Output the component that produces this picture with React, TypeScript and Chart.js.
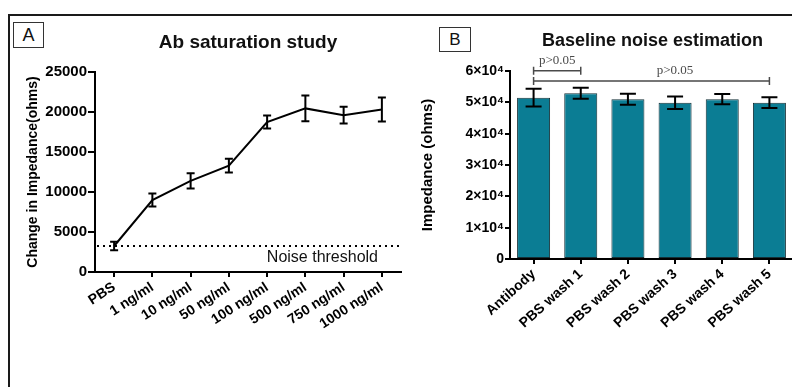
import React, { useEffect, useRef } from 'react';
import { Chart, registerables } from 'chart.js';

Chart.register(...registerables);

// ---------- Panel A data ----------
const A_LABELS = ['PBS', '1 ng/ml', '10 ng/ml', '50 ng/ml', '100 ng/ml', '500 ng/ml', '750 ng/ml', '1000 ng/ml'];
const A_MEANS = [3250, 9000, 11400, 13300, 18750, 20450, 19600, 20300];
const A_ERRORS = [520, 800, 950, 850, 800, 1600, 1050, 1500];
const A_NOISE_THRESHOLD = 3250;
const A_NOISE_LABEL = 'Noise threshold';
const A_Y_MAX = 25000;
const A_Y_STEP = 5000;
const A_TITLE = 'Ab saturation study';
const A_Y_TITLE = 'Change in Impedance(ohms)';

// ---------- Panel B data ----------
const B_LABELS = ['Antibody', 'PBS wash 1', 'PBS wash 2', 'PBS wash 3', 'PBS wash 4', 'PBS wash 5'];
const B_MEANS = [51500, 52900, 51000, 49900, 51000, 49900];
const B_ERRORS = [2800, 1750, 1750, 2000, 1650, 1700];
const B_Y_MAX = 60000;
const B_Y_STEP = 10000;
const B_TITLE = 'Baseline noise estimation';
const B_Y_TITLE = 'Impedance (ohms)';
const B_BRACKET_FROM = [0, 0];
const B_BRACKET_TO = [1, 5];
const B_BRACKET_VALUE = [60100, 56800];
const B_BRACKET_LABEL = ['p>0.05', 'p>0.05'];
const B_BRACKET_LABEL_AT = [0.5, 3];

const SANS = '"Liberation Sans", Arial, Helvetica, sans-serif';
const SERIF = '"Liberation Serif", "Times New Roman", serif';
const TEAL = '#0b7d94';

const errorBarPlugin = {
  id: 'errorBars',
  afterDatasetsDraw(chart: any, _args: any, opts: any) {
    const meta = chart.getDatasetMeta(0);
    const yScale = chart.scales.y;
    const data = chart.data.datasets[0].data as number[];
    const ctx = chart.ctx;
    ctx.save();
    ctx.strokeStyle = opts.color || '#000';
    ctx.lineWidth = opts.lineWidth || 2;
    meta.data.forEach((el: any, i: number) => {
      const x = el.x;
      const v = data[i];
      const e = opts.errors[i];
      const yt = yScale.getPixelForValue(v + e);
      const yb = yScale.getPixelForValue(v - e);
      const c = opts.capHalf;
      ctx.beginPath();
      ctx.moveTo(x, yt);
      ctx.lineTo(x, yb);
      ctx.moveTo(x - c, yt);
      ctx.lineTo(x + c, yt);
      ctx.moveTo(x - c, yb);
      ctx.lineTo(x + c, yb);
      ctx.stroke();
    });
    ctx.restore();
  },
};

const thresholdPlugin = {
  id: 'threshold',
  afterDatasetsDraw(chart: any, _args: any, opts: any) {
    if (!opts || opts.value == null) return;
    const { ctx, chartArea } = chart;
    const y = chart.scales.y.getPixelForValue(opts.value);
    ctx.save();
    ctx.strokeStyle = '#000';
    ctx.lineWidth = 2;
    ctx.setLineDash([2, 4]);
    ctx.beginPath();
    ctx.moveTo(chartArea.left + 2, y);
    ctx.lineTo(chartArea.right, y);
    ctx.stroke();
    ctx.setLineDash([]);
    ctx.fillStyle = '#111';
    ctx.font = `16px ${SANS}`;
    ctx.textAlign = 'right';
    ctx.textBaseline = 'alphabetic';
    ctx.fillText(opts.label, chartArea.right - 23, y + 16);
    ctx.restore();
  },
};

const bracketPlugin = {
  id: 'brackets',
  afterDraw(chart: any, _args: any, opts: any) {
    if (!opts || !opts.from) return;
    const { ctx } = chart;
    const xs = chart.scales.x;
    const ys = chart.scales.y;
    ctx.save();
    ctx.strokeStyle = '#4a4a4a';
    ctx.fillStyle = '#4a4a4a';
    ctx.lineWidth = 1.5;
    ctx.font = `13px ${SERIF}`;
    ctx.textAlign = 'center';
    ctx.textBaseline = 'alphabetic';
    for (let i = 0; i < opts.from.length; i++) {
      const x1 = xs.getPixelForValue(opts.from[i]);
      const x2 = xs.getPixelForValue(opts.to[i]);
      const y = ys.getPixelForValue(opts.values[i]);
      ctx.beginPath();
      ctx.moveTo(x1, y);
      ctx.lineTo(x2, y);
      ctx.moveTo(x1, y - 4);
      ctx.lineTo(x1, y + 4);
      ctx.moveTo(x2, y - 4);
      ctx.lineTo(x2, y + 4);
      ctx.stroke();
      const at = opts.labelAt[i];
      const lo = Math.floor(at);
      const frac = at - lo;
      const xa = xs.getPixelForValue(lo);
      const xb = frac > 0 ? xs.getPixelForValue(lo + 1) : xa;
      const lx = xa + (xb - xa) * frac;
      ctx.fillText(opts.labels[i], lx, y - 7);
    }
    ctx.restore();
  },
};

function makeConfigA(): any {
  return {
    type: 'line',
    data: {
      labels: A_LABELS,
      datasets: [
        {
          data: A_MEANS,
          borderColor: '#000',
          borderWidth: 2,
          pointRadius: 0,
          tension: 0,
          fill: false,
        },
      ],
    },
    plugins: [errorBarPlugin, thresholdPlugin],
    options: {
      responsive: false,
      animation: false,
      devicePixelRatio: 1,
      layout: { padding: { left: 25, top: 72, right: 19, bottom: 0 } },
      plugins: {
        legend: { display: false },
        tooltip: { enabled: false },
        title: { display: false },
        errorBars: { errors: A_ERRORS, capHalf: 4, lineWidth: 2, color: '#000' },
        threshold: { value: A_NOISE_THRESHOLD, label: A_NOISE_LABEL },
      },
      scales: {
        x: {
          type: 'category',
          offset: true,
          afterFit: (s: any) => {
            s.height = 115;
          },
          grid: {
            offset: false,
            drawOnChartArea: false,
            drawTicks: true,
            tickLength: 5,
            color: '#000',
            lineWidth: 2,
          },
          border: { display: true, color: '#000', width: 2 },
          ticks: {
            autoSkip: false,
            maxRotation: 33,
            minRotation: 33,
            padding: 2,
            color: '#000',
            font: { family: SANS, size: 14, weight: 'bold' },
          },
        },
        y: {
          min: 0,
          max: A_Y_MAX,
          afterFit: (s: any) => {
            s.width = 70;
          },
          grid: {
            drawOnChartArea: false,
            drawTicks: true,
            tickLength: 7,
            color: '#000',
            lineWidth: 2,
          },
          border: { display: true, color: '#000', width: 2 },
          ticks: {
            stepSize: A_Y_STEP,
            padding: 1,
            color: '#000',
            font: { family: SANS, size: 15, weight: 'bold' },
            callback: (v: any) => String(v),
          },
          title: {
            display: true,
            text: A_Y_TITLE,
            color: '#000',
            padding: 0,
            font: { family: SANS, size: 14, weight: 'bold' },
          },
        },
      },
    },
  };
}

function makeConfigB(): any {
  return {
    type: 'bar',
    data: {
      labels: B_LABELS,
      datasets: [
        {
          data: B_MEANS,
          backgroundColor: TEAL,
          borderColor: '#143037',
          borderWidth: 1,
          borderSkipped: false,
          barPercentage: 0.7,
          categoryPercentage: 1,
        },
      ],
    },
    plugins: [errorBarPlugin, bracketPlugin],
    options: {
      responsive: false,
      animation: false,
      devicePixelRatio: 1,
      layout: { padding: { left: 19, top: 71, right: 7, bottom: 0 } },
      plugins: {
        legend: { display: false },
        tooltip: { enabled: false },
        title: { display: false },
        errorBars: { errors: B_ERRORS, capHalf: 8, lineWidth: 2, color: '#000' },
        brackets: {
          from: B_BRACKET_FROM,
          to: B_BRACKET_TO,
          values: B_BRACKET_VALUE,
          labels: B_BRACKET_LABEL,
          labelAt: B_BRACKET_LABEL_AT,
        },
      },
      scales: {
        x: {
          type: 'category',
          offset: true,
          afterFit: (s: any) => {
            s.height = 128;
          },
          grid: {
            offset: false,
            drawOnChartArea: false,
            drawTicks: true,
            tickLength: 5,
            color: '#000',
            lineWidth: 2,
          },
          border: { display: true, color: '#000', width: 2 },
          ticks: {
            autoSkip: false,
            maxRotation: 42,
            minRotation: 42,
            padding: 2,
            color: '#000',
            font: { family: SANS, size: 14, weight: 'bold' },
          },
        },
        y: {
          min: 0,
          max: B_Y_MAX,
          afterFit: (s: any) => {
            s.width = 91;
          },
          grid: {
            drawOnChartArea: false,
            drawTicks: true,
            tickLength: 5,
            color: '#000',
            lineWidth: 2,
          },
          border: { display: true, color: '#000', width: 2 },
          ticks: {
            stepSize: B_Y_STEP,
            padding: 1,
            color: '#000',
            font: { family: SANS, size: 14, weight: 'bold' },
            callback: (v: any) => (v === 0 ? '0' : `${v / 10000}×10⁴`),
          },
          title: {
            display: true,
            text: B_Y_TITLE,
            color: '#000',
            padding: 0,
            font: { family: SANS, size: 15, weight: 'bold' },
          },
        },
      },
    },
  };
}

export default function App() {
  const refA = useRef<HTMLCanvasElement>(null);
  const refB = useRef<HTMLCanvasElement>(null);

  useEffect(() => {
    const a = new Chart(refA.current as HTMLCanvasElement, makeConfigA());
    const b = new Chart(refB.current as HTMLCanvasElement, makeConfigB());
    return () => {
      a.destroy();
      b.destroy();
    };
  }, []);

  const box: React.CSSProperties = {
    position: 'absolute',
    boxSizing: 'border-box',
    border: '1px solid #333',
    display: 'flex',
    alignItems: 'center',
    justifyContent: 'center',
    fontFamily: SANS,
    color: '#111',
    background: '#fff',
  };

  return (
    <div
      style={{
        position: 'absolute',
        left: 0,
        top: 0,
        width: 792,
        height: 387,
        overflow: 'hidden',
        background: '#fff',
      }}
    >
      <div
        style={{
          position: 'absolute',
          left: 8,
          top: 14,
          width: 820,
          height: 420,
          borderTop: '2px solid #1a1a1a',
          borderLeft: '2px solid #1a1a1a',
        }}
      />
      <canvas
        ref={refA}
        width={420}
        height={387}
        style={{ position: 'absolute', left: 0, top: 0, width: 420, height: 387 }}
      />
      <canvas
        ref={refB}
        width={400}
        height={387}
        style={{ position: 'absolute', left: 400, top: 0, width: 400, height: 387 }}
      />
      <div style={{ ...box, left: 13, top: 22, width: 31, height: 26, fontSize: 18 }}>A</div>
      <div style={{ ...box, left: 439, top: 27, width: 32, height: 25, fontSize: 17 }}>B</div>
      <div
        style={{
          position: 'absolute',
          left: 0,
          top: 32,
          width: 496,
          textAlign: 'center',
          fontFamily: SANS,
          fontWeight: 'bold',
          fontSize: 19,
          lineHeight: '19px',
          color: '#111',
          whiteSpace: 'nowrap',
        }}
      >
        {A_TITLE}
      </div>
      <div
        style={{
          position: 'absolute',
          left: 452,
          top: 31,
          width: 401,
          textAlign: 'center',
          fontFamily: SANS,
          fontWeight: 'bold',
          fontSize: 18,
          lineHeight: '18px',
          color: '#111',
          whiteSpace: 'nowrap',
        }}
      >
        {B_TITLE}
      </div>
    </div>
  );
}
